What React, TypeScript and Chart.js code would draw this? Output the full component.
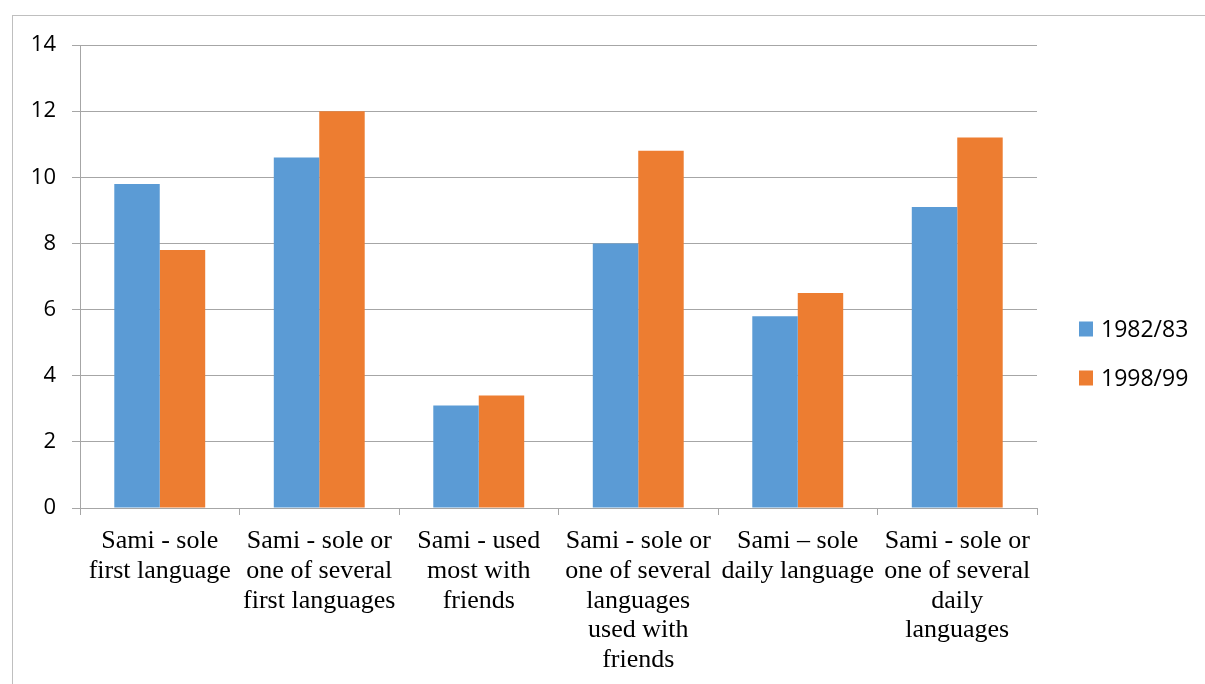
import React, { useEffect, useRef } from "react";
import { Chart, registerables } from "chart.js";

Chart.register(...registerables);

const categories: string[][] = [
  ["Sami - sole", "first language"],
  ["Sami - sole or", "one of several", "first languages"],
  ["Sami - used", "most with", "friends"],
  ["Sami - sole or", "one of several", "languages", "used with", "friends"],
  ["Sami – sole", "daily language"],
  ["Sami - sole or", "one of several", "daily", "languages"],
];

const seriesNames = ["1982/83", "1998/99"];
const values1982 = [9.8, 10.6, 3.1, 8.0, 5.8, 9.1];
const values1998 = [7.8, 12.0, 3.4, 10.8, 6.5, 11.2];
const yTicks = [0, 2, 4, 6, 8, 10, 12, 14];

const BLUE = "#5B9BD5";
const ORANGE = "#ED7D31";
const GRID = "#A6A6A6";

const legendPlugin = {
  id: "customLegend",
  afterDraw(chart: any) {
    const ctx = chart.ctx;
    ctx.save();
    const x = 1079;
    const ys = [329, 378];
    chart.data.datasets.forEach((ds: any, i: number) => {
      ctx.fillStyle = ds.backgroundColor;
      ctx.fillRect(x, ys[i] - 7.5, 14, 15);
      ctx.fillStyle = "#000";
      ctx.font = "23px 'Open Sans'";
      ctx.textBaseline = "middle";
      ctx.textAlign = "left";
      ctx.fillText(ds.label, x + 22, ys[i] + 1);
    });
    ctx.restore();
  },
};

export default function App() {
  const ref = useRef<HTMLCanvasElement | null>(null);
  useEffect(() => {
    if (!ref.current) return;
    const chart = new Chart(ref.current, {
      type: "bar",
      data: {
        labels: categories,
        datasets: [
          { label: seriesNames[0], data: values1982, backgroundColor: BLUE, borderWidth: 0 },
          { label: seriesNames[1], data: values1998, backgroundColor: ORANGE, borderWidth: 0 },
        ],
      },
      options: {
        responsive: false,
        animation: false,
        events: [],
        layout: { padding: { left: 20, top: 45, right: 168, bottom: 0 } },
        datasets: { bar: { categoryPercentage: 0.57, barPercentage: 1 } },
        plugins: { legend: { display: false }, tooltip: { enabled: false } },
        scales: {
          x: {
            grid: { display: true, drawOnChartArea: false, drawTicks: true, tickLength: 7, color: GRID, offset: true },
            border: { color: GRID, width: 1 },
            ticks: {
              autoSkip: false,
              maxRotation: 0,
              minRotation: 0,
              color: "#000",
              padding: 11,
              font: { family: "'Liberation Serif', 'Times New Roman', serif", size: 26, lineHeight: 1.15 },
            },
            afterFit: (s: any) => { s.height = 176; },
          },
          y: {
            min: 0,
            max: 14,
            grid: { color: GRID, tickLength: 8, drawTicks: true },
            border: { color: GRID, width: 1 },
            ticks: {
              stepSize: 2,
              color: "#000",
              padding: 16,
              font: { family: "'Open Sans', sans-serif", size: 22 },
              callback: (v: any) => (yTicks.includes(Number(v)) ? String(v) : ""),
            },
            afterFit: (s: any) => { s.width = 60; },
          },
        },
      },
      plugins: [legendPlugin],
    });
    return () => chart.destroy();
  }, []);

  return (
    <div>
      <div
        style={{
          position: "fixed",
          left: 12,
          top: 15,
          right: -5,
          bottom: -5,
          borderTop: "1px solid #BFBFBF",
          borderLeft: "1px solid #BFBFBF",
        }}
      />
      <canvas
        ref={ref}
        width={1205}
        height={684}
        style={{ position: "fixed", left: 0, top: 0, display: "block" }}
      />
    </div>
  );
}
